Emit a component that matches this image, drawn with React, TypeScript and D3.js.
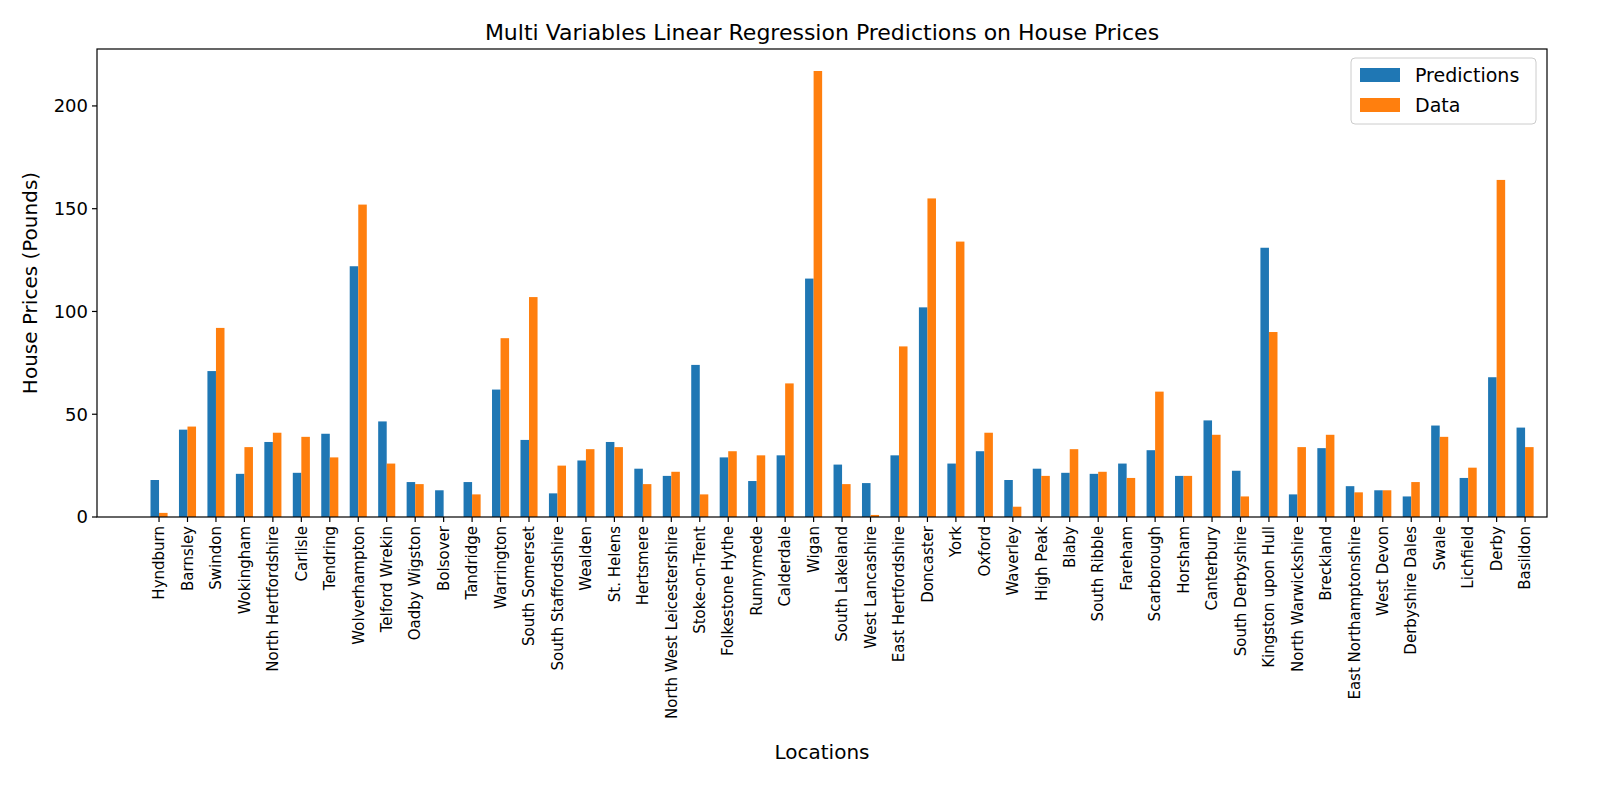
import React from "react";
import * as d3 from "d3";

const locations = ["Hyndburn","Barnsley","Swindon","Wokingham","North Hertfordshire","Carlisle","Tendring","Wolverhampton","Telford Wrekin","Oadby Wigston","Bolsover","Tandridge","Warrington","South Somerset","South Staffordshire","Wealden","St. Helens","Hertsmere","North West Leicestershire","Stoke-on-Trent","Folkestone Hythe","Runnymede","Calderdale","Wigan","South Lakeland","West Lancashire","East Hertfordshire","Doncaster","York","Oxford","Waverley","High Peak","Blaby","South Ribble","Fareham","Scarborough","Horsham","Canterbury","South Derbyshire","Kingston upon Hull","North Warwickshire","Breckland","East Northamptonshire","West Devon","Derbyshire Dales","Swale","Lichfield","Derby","Basildon"];
const predictions = [18,42.5,71,21,36.5,21.5,40.5,122,46.5,17,13,17,62,37.5,11.5,27.5,36.5,23.5,20,74,29,17.5,30,116,25.5,16.5,30,102,26,32,18,23.5,21.5,21,26,32.5,20,47,22.5,131,11,33.5,15,13,10,44.5,19,68,43.5];
const dataVals = [2,44,92,34,41,39,29,152,26,16,0,11,87,107,25,33,34,16,22,11,32,30,65,217,16,1,83,155,134,41,5,20,33,22,19,61,20,40,10,90,34,40,12,13,17,39,24,164,34];
const yTicks = [0,50,100,150,200];

const L = 97, R = 1547, T = 49, B = 517;
const BLUE = "#1f77b4", ORANGE = "#ff7f0e";
const font = "DejaVu Sans, sans-serif";

export default function App() {
  const x = d3.scaleLinear().domain([-2.18, 48.77]).range([L, R]);
  const y = d3.scaleLinear().domain([0, 227.7]).range([B, T]);
  const w = 0.3;
  return (
    <svg width={1600} height={800} style={{ display: "block", position: "absolute", left: 0, top: 0 }} fontFamily={font}>
      <rect width={1600} height={800} fill="#fff" />
      {locations.map((_, i) => (
        <g key={i}>
          <rect x={x(i - w)} y={y(predictions[i])} width={x(w) - x(0)} height={B - y(predictions[i])} fill={BLUE} />
          <rect x={x(i)} y={y(dataVals[i])} width={x(w) - x(0)} height={B - y(dataVals[i])} fill={ORANGE} />
        </g>
      ))}
      <rect x={L} y={T} width={R - L} height={B - T} fill="none" stroke="#000" strokeWidth={1.2} />
      {yTicks.map(t => (
        <g key={t}>
          <line x1={L - 5} x2={L} y1={y(t)} y2={y(t)} stroke="#000" strokeWidth={1.2} />
          <text x={L - 9} y={y(t)} dy="0.35em" textAnchor="end" fontSize={18}>{t}</text>
        </g>
      ))}
      {locations.map((name, i) => (
        <g key={name}>
          <line x1={x(i)} x2={x(i)} y1={B} y2={B + 5} stroke="#000" strokeWidth={1.2} />
          <text transform={`translate(${x(i)},${B + 9}) rotate(-90)`} textAnchor="end" dy="0.35em" fontSize={15}>{name}</text>
        </g>
      ))}
      <text x={(L + R) / 2} y={40} textAnchor="middle" fontSize={22}>Multi Variables Linear Regression Predictions on House Prices</text>
      <text x={(L + R) / 2} y={759} textAnchor="middle" fontSize={20}>Locations</text>
      <text transform={`translate(37,${(T + B) / 2}) rotate(-90)`} textAnchor="middle" fontSize={20}>House Prices (Pounds)</text>
      <g>
        <rect x={1351} y={58} width={185} height={66} rx={4} fill="#fff" stroke="#ccc" />
        <rect x={1360} y={68} width={40} height={14} fill={BLUE} />
        <text x={1415} y={75} dy="0.35em" fontSize={19}>Predictions</text>
        <rect x={1360} y={98} width={40} height={14} fill={ORANGE} />
        <text x={1415} y={105} dy="0.35em" fontSize={19}>Data</text>
      </g>
    </svg>
  );
}
